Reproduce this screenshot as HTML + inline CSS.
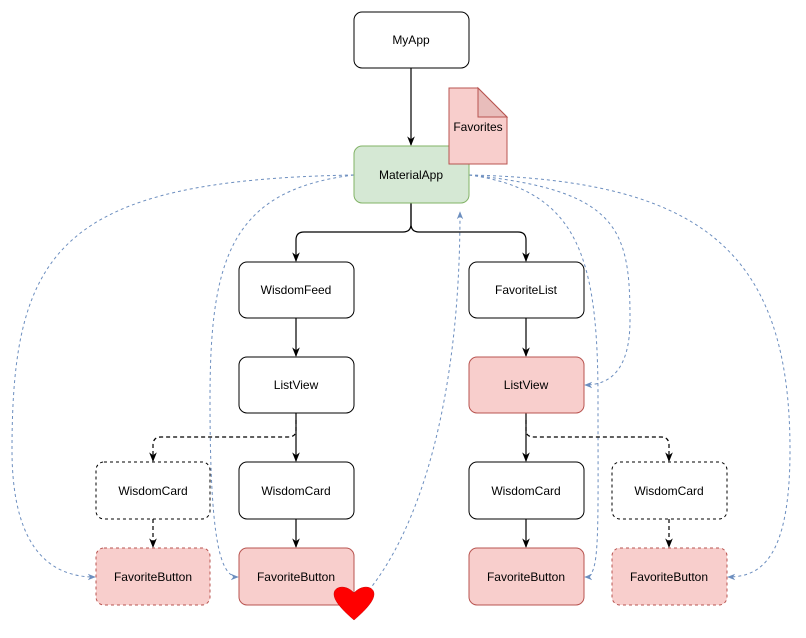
<!DOCTYPE html>
<html><head><style>body{margin:0;background:#fff}svg{display:block}text{font-family:"Liberation Sans",sans-serif;font-size:12px;text-anchor:middle;dominant-baseline:central;fill:#000}</style></head>
<body>
<svg width="806" height="638" viewBox="0 0 806 638" xmlns="http://www.w3.org/2000/svg">
<defs>
<marker id="ab" viewBox="0 0 10 10" refX="9" refY="5" markerWidth="8" markerHeight="8" orient="auto"><path d="M0,1 L10,5 L0,9 L3,5z" fill="#000"/></marker>
<marker id="abl" viewBox="0 0 10 10" refX="9" refY="5" markerWidth="8" markerHeight="8" orient="auto"><path d="M0,1 L10,5 L0,9 L3,5z" fill="#6c8ebf"/></marker>
</defs>
<g fill="none" stroke="#6c8ebf" stroke-dasharray="3,3" stroke-width="1" marker-end="url(#abl)">
<path d="M354,175 C60,180 12,250 12,450 C12,560 60,577 95,577"/>
<path d="M354,175 C230,190 210,260 210,400 C210,540 220,577 238,577"/>
<path d="M365,595 C420,530 460,400 460,212"/>
<path d="M469,175 C620,190 630,230 630,320 C630,370 610,385 585,385"/>
<path d="M469,175 C580,190 598,260 598,400 C598,540 600,577 585,577"/>
<path d="M469,175 C700,180 790,250 790,450 C790,560 760,577 728,577"/>
</g>
<g fill="none" stroke="#000" stroke-width="1.2" marker-end="url(#ab)">
<path d="M411,68 V145"/>
<path d="M411,203 V224 Q411,232 403,232 H304 Q296,232 296,240 V261"/>
<path d="M411,203 V224 Q411,232 419,232 H518 Q526,232 526,240 V261"/>
<path d="M296,318 V356"/><path d="M526,318 V356"/>
<path d="M296,413 V461"/><path d="M526,413 V461"/>
<path d="M296,519 V547"/><path d="M526,519 V547"/>
</g>
<g fill="none" stroke="#000" stroke-width="1.2" stroke-dasharray="4,3" marker-end="url(#ab)">
<path d="M296,420 V430 Q296,437 288,437 H161 Q153,437 153,445 V461"/>
<path d="M526,420 V430 Q526,437 534,437 H661 Q669,437 669,445 V461"/>
<path d="M153,519 V547"/><path d="M669,519 V547"/>
</g>
<g stroke-width="1">
<rect x="354" y="12" width="115" height="56" rx="8" fill="#fff" stroke="#000"/>
<rect x="354" y="146" width="115" height="57" rx="8" fill="#d5e8d4" stroke="#82b366"/>
<rect x="239" y="262" width="115" height="56" rx="8" fill="#fff" stroke="#000"/>
<rect x="469" y="262" width="115" height="56" rx="8" fill="#fff" stroke="#000"/>
<rect x="239" y="357" width="115" height="56" rx="8" fill="#fff" stroke="#000"/>
<rect x="469" y="357" width="115" height="56" rx="8" fill="#f8cecc" stroke="#b85450"/>
<rect x="96" y="462" width="114" height="57" rx="8" fill="#fff" stroke="#000" stroke-dasharray="3,3"/>
<rect x="239" y="462" width="115" height="57" rx="8" fill="#fff" stroke="#000"/>
<rect x="469" y="462" width="115" height="57" rx="8" fill="#fff" stroke="#000"/>
<rect x="612" y="462" width="115" height="57" rx="8" fill="#fff" stroke="#000" stroke-dasharray="3,3"/>
<rect x="96" y="548" width="114" height="57" rx="8" fill="#f8cecc" stroke="#b85450" stroke-dasharray="3,3"/>
<rect x="239" y="548" width="115" height="57" rx="8" fill="#f8cecc" stroke="#b85450"/>
<rect x="469" y="548" width="115" height="57" rx="8" fill="#f8cecc" stroke="#b85450"/>
<rect x="612" y="548" width="115" height="57" rx="8" fill="#f8cecc" stroke="#b85450" stroke-dasharray="3,3"/>
<path d="M449,88 H478 L507,117 V164 H449 Z" fill="#f8cecc" stroke="#b85450"/>
<path d="M478,88 V117 H507 Z" fill="#e8bdbb" stroke="#b85450"/>
</g>
<path d="M354,620 C340,608 334,600 334,594 C334,586 346,584 354,593 C362,584 374,586 374,594 C374,600 368,608 354,620 Z" fill="#f00" stroke="#c00" stroke-width="0.5"/>
<text x="411" y="40">MyApp</text>
<text x="411" y="175">MaterialApp</text>
<text x="478" y="127">Favorites</text>
<text x="296" y="290">WisdomFeed</text>
<text x="526" y="290">FavoriteList</text>
<text x="296" y="385">ListView</text>
<text x="526" y="385">ListView</text>
<text x="153" y="491">WisdomCard</text>
<text x="296" y="491">WisdomCard</text>
<text x="526" y="491">WisdomCard</text>
<text x="669" y="491">WisdomCard</text>
<text x="153" y="577">FavoriteButton</text>
<text x="296" y="577">FavoriteButton</text>
<text x="526" y="577">FavoriteButton</text>
<text x="669" y="577">FavoriteButton</text>
</svg>
</body></html>
